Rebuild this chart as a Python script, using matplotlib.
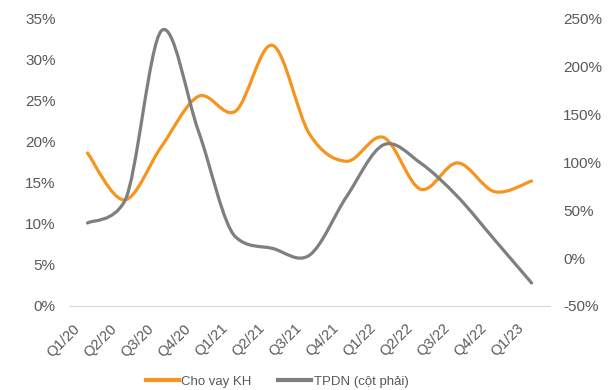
import numpy as np
import matplotlib.pyplot as plt
from matplotlib.path import Path
from matplotlib.patches import PathPatch
from matplotlib.transforms import ScaledTranslation

plt.rcParams['font.family'] = ['Liberation Sans', 'DejaVu Sans']

quarters = ["Q1/20", "Q2/20", "Q3/20", "Q4/20", "Q1/21", "Q2/21", "Q3/21",
            "Q4/21", "Q1/22", "Q2/22", "Q3/22", "Q4/22", "Q1/23"]
cho_vay_kh = [18.6, 12.9, 19.4, 25.5, 23.7, 31.7, 20.9, 17.6, 20.5, 14.2, 17.4, 13.9, 15.2]
tpdn = [36.5, 59, 237, 132, 22, 10, 3, 64, 118, 99, 64, 19, -26]

ORANGE = "#F7941D"
GRAY = "#7F7F7F"
TEXT = "#595959"


def smooth_path(x, y, t=1/6):
    # Bézier lissée (type Catmull-Rom) passant par chaque point ;
    # aux points monotones la tangente est réduite pour éviter les creux parasites
    x = np.asarray(x, float)
    y = np.asarray(y, float)
    n = len(x)
    m = np.empty(n)
    for i in range(n):
        i0 = max(i - 1, 0)
        i1 = min(i + 1, n - 1)
        m[i] = (y[i1] - y[i0]) * t
        if 0 < i < n - 1 and (y[i] - y[i - 1]) * (y[i + 1] - y[i]) > 0:
            room = min(abs(y[i] - y[i - 1]), abs(y[i + 1] - y[i]))
            if abs(m[i]) > room:
                m[i] = np.sign(m[i]) * room
    verts = [(x[0], y[0])]
    codes = [Path.MOVETO]
    for i in range(n - 1):
        i0 = max(i - 1, 0)
        i3 = min(i + 2, n - 1)
        c1 = (x[i] + (x[i + 1] - x[i0]) * t, y[i] + m[i])
        c2 = (x[i + 1] - (x[i3] - x[i]) * t, y[i + 1] - m[i + 1])
        verts += [c1, c2, (x[i + 1], y[i + 1])]
        codes += [Path.CURVE4] * 3
    return Path(verts, codes)


fig = plt.figure(figsize=(6.09, 3.9), dpi=100)
ax = fig.add_axes([0.1133, 0.2154, 0.790, 0.738])
ax2 = ax.twinx()

x = np.arange(len(quarters))
ax.add_patch(PathPatch(smooth_path(x, np.array(cho_vay_kh) / 100), fill=False,
                       edgecolor=ORANGE, lw=2.3, capstyle='round', zorder=3))
ax2.add_patch(PathPatch(smooth_path(x, np.array(tpdn) / 100), fill=False,
                        edgecolor=GRAY, lw=2.3, capstyle='round', zorder=2))

ax.set_xlim(-0.5, len(quarters) - 0.5)
ax.set_ylim(0, 0.35)
ax2.set_ylim(-0.5, 2.5)
ax.set_yticks(np.arange(0, 0.351, 0.05))
ax2.set_yticks(np.arange(-0.5, 2.51, 0.5))
ax.set_yticklabels([f"{v:.0f}%" for v in np.arange(0, 35.1, 5)])
ax2.set_yticklabels([f"{v:.0f}%" for v in np.arange(-50, 250.1, 50)])

ax.set_xticks(x)
ax.set_xticklabels(quarters, rotation=45, ha='right', rotation_mode='anchor')

for a in (ax, ax2):
    for s in a.spines.values():
        s.set_visible(False)
    a.tick_params(length=0, colors=TEXT, labelsize=11, pad=9.5)
ax.spines['bottom'].set_visible(True)
ax.spines['bottom'].set_color("#D9D9D9")
ax.tick_params(axis='x', labelsize=10.5, pad=6)
shift = ScaledTranslation(-0.15, -0.07, fig.dpi_scale_trans)
for lab in ax.get_xticklabels():
    lab.set_transform(lab.get_transform() + shift)

h1, = ax.plot([], [], color=ORANGE, lw=3, label="Cho vay KH")
h2, = ax.plot([], [], color=GRAY, lw=3, label="TPDN (cột phải)")
fig.legend(handles=[h1, h2], loc='lower center', bbox_to_anchor=(0.455, -0.025),
           ncol=2, frameon=False, fontsize=9.5, labelcolor=TEXT,
           handlelength=2.5, handletextpad=0.2, columnspacing=2.0)

fig.savefig("out.png", dpi=100)
